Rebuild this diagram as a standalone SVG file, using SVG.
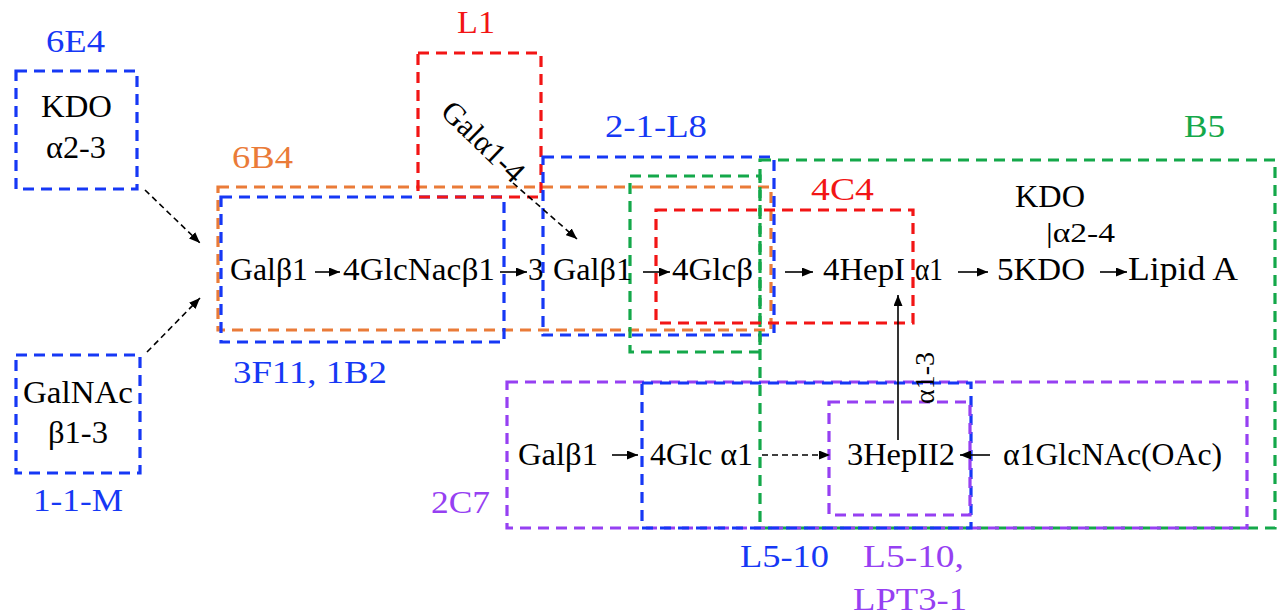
<svg xmlns="http://www.w3.org/2000/svg" width="1280" height="616" viewBox="0 0 1280 616">
<style>
.bx{fill:none;stroke-width:3.2;stroke-dasharray:11 7}
.b{stroke:#1638f5}.r{stroke:#f21515}.o{stroke:#ea7b38}.g{stroke:#14a84a}.p{stroke:#9640f2}
text{font-family:"Liberation Serif","DejaVu Serif",serif}
.t{font-size:31px;fill:#000}
.l{font-size:31px}
.lb{fill:#1638f5}.lr{fill:#f21515}.lo{fill:#ea7b38}.lg{fill:#14a84a}.lp{fill:#9640f2}
.c{stroke:#000;stroke-width:1.6;fill:none}
.d{stroke-dasharray:6 4}
</style>
<defs>
<marker id="ah" markerWidth="11" markerHeight="9" refX="11" refY="4.5" orient="auto" markerUnits="userSpaceOnUse"><path d="M0,0 L11,4.5 L0,9 z" fill="#000"/></marker>
</defs>
<rect width="1280" height="616" fill="#fff"/>

<g id="node-6E4">
<rect class="bx b" x="16" y="71" width="121" height="118"/>
<text class="l lb" x="46" y="52" textLength="59" lengthAdjust="spacingAndGlyphs">6E4</text>
<text class="t" x="41" y="117" textLength="71" lengthAdjust="spacingAndGlyphs">KDO</text>
<text class="t" x="46" y="158" textLength="60" lengthAdjust="spacingAndGlyphs">α2-3</text>
</g>
<g id="node-1-1-M">
<rect class="bx b" x="16" y="355" width="124" height="118"/>
<text class="t" x="23" y="403" textLength="110" lengthAdjust="spacingAndGlyphs">GalNAc</text>
<text class="t" x="48" y="443" textLength="60" lengthAdjust="spacingAndGlyphs">β1-3</text>
<text class="l lb" x="33" y="511" textLength="90" lengthAdjust="spacingAndGlyphs">1-1-M</text>
</g>
<g id="node-6B4">
<rect class="bx o" x="218" y="187" width="553" height="143"/>
<text class="l lo" x="232" y="168" textLength="61" lengthAdjust="spacingAndGlyphs">6B4</text>
</g>
<g id="node-3F11">
<rect class="bx b" x="221" y="197" width="283" height="145"/>
<text class="l lb" x="233" y="383" textLength="154" lengthAdjust="spacingAndGlyphs">3F11, 1B2</text>
</g>
<g id="node-L1">
<rect class="bx r" x="418" y="53" width="123" height="144"/>
<text class="l lr" x="457" y="33" textLength="38" lengthAdjust="spacingAndGlyphs">L1</text>
<text class="t" x="0" y="0" transform="translate(476,149) rotate(44)" text-anchor="middle">Galα1-4</text>
</g>
<g id="node-2-1-L8">
<rect class="bx b" x="543" y="157" width="231" height="178"/>
<text class="l lb" x="605" y="137" textLength="102" lengthAdjust="spacingAndGlyphs">2-1-L8</text>
</g>
<g id="node-B5">
<rect class="bx g" x="760" y="160" width="515" height="368"/>
<rect class="bx g" x="630" y="176" width="130" height="176"/>
<text class="l lg" x="1184" y="137" textLength="41" lengthAdjust="spacingAndGlyphs">B5</text>
</g>
<g id="node-4C4">
<rect class="bx r" x="656" y="210" width="257" height="113"/>
<text class="l lr" x="811" y="200" textLength="63" lengthAdjust="spacingAndGlyphs">4C4</text>
</g>
<g id="node-2C7">
<rect class="bx p" x="507" y="382" width="740" height="146"/>
<text class="l lp" x="431" y="513" textLength="59" lengthAdjust="spacingAndGlyphs">2C7</text>
</g>
<g id="node-L5-10">
<rect class="bx b" x="642" y="383" width="329" height="145"/>
<text class="l lb" x="740" y="567" textLength="89" lengthAdjust="spacingAndGlyphs">L5-10</text>
</g>
<g id="node-LPT3-1">
<rect class="bx p" x="829" y="402" width="141" height="113"/>
<text class="l lp" x="863" y="567" textLength="101" lengthAdjust="spacingAndGlyphs">L5-10,</text>
<text class="l lp" x="853" y="610" textLength="114" lengthAdjust="spacingAndGlyphs">LPT3-1</text>
</g>

<g id="chain-top">
<text class="t" x="230" y="280" textLength="78" lengthAdjust="spacingAndGlyphs">Galβ1</text>
<text class="t" x="343" y="280" textLength="152" lengthAdjust="spacingAndGlyphs">4GlcNacβ1</text>
<text class="t" x="528" y="280">3</text>
<text class="t" x="553" y="280" textLength="79" lengthAdjust="spacingAndGlyphs">Galβ1</text>
<text class="t" x="672" y="280" textLength="81" lengthAdjust="spacingAndGlyphs">4Glcβ</text>
<text class="t" x="823" y="280" textLength="82" lengthAdjust="spacingAndGlyphs">4HepI</text>
<text class="t" x="915" y="280" textLength="28" lengthAdjust="spacingAndGlyphs">α1</text>
<text class="t" x="997" y="280" textLength="88" lengthAdjust="spacingAndGlyphs">5KDO</text>
<text class="t" x="1128" y="280" style="font-size:34px" textLength="110" lengthAdjust="spacingAndGlyphs">Lipid A</text>
<text class="t" x="1015" y="207" textLength="70" lengthAdjust="spacingAndGlyphs">KDO</text>
<text class="t" x="1046" y="242" style="font-size:27px" textLength="69" lengthAdjust="spacingAndGlyphs">|α2-4</text>
</g>
<g id="chain-bottom">
<text class="t" x="518" y="465" textLength="80" lengthAdjust="spacingAndGlyphs">Galβ1</text>
<text class="t" x="650" y="465" textLength="103" lengthAdjust="spacingAndGlyphs">4Glc α1</text>
<text class="t" x="847" y="465" textLength="108" lengthAdjust="spacingAndGlyphs">3HepII2</text>
<text class="t" x="1003" y="465" textLength="219" lengthAdjust="spacingAndGlyphs">α1GlcNAc(OAc)</text>
<text class="t" x="0" y="0" transform="translate(934,378) rotate(-90)" text-anchor="middle" style="font-size:28px">α1-3</text>
</g>

<g id="connectors">
<line class="c d" x1="145" y1="190" x2="200" y2="243" marker-end="url(#ah)"/>
<line class="c d" x1="147" y1="352" x2="200" y2="298" marker-end="url(#ah)"/>
<line class="c d" x1="513" y1="183" x2="577" y2="239" marker-end="url(#ah)"/>
<line class="c" x1="315" y1="272" x2="340" y2="272" marker-end="url(#ah)"/>
<line class="c" x1="500" y1="272" x2="527" y2="272" marker-end="url(#ah)"/>
<line class="c" x1="643" y1="272" x2="670" y2="272" marker-end="url(#ah)"/>
<line class="c" x1="785" y1="272" x2="813" y2="272" marker-end="url(#ah)"/>
<line class="c" x1="958" y1="272" x2="988" y2="272" marker-end="url(#ah)"/>
<line class="c" x1="1100" y1="272" x2="1127" y2="272" marker-end="url(#ah)"/>
<line class="c" x1="898" y1="440" x2="898" y2="295" marker-end="url(#ah)"/>
<line class="c" x1="612" y1="455" x2="638" y2="455" marker-end="url(#ah)"/>
<line class="c d" x1="762" y1="455" x2="830" y2="455" marker-end="url(#ah)"/>
<line class="c" x1="990" y1="455" x2="960" y2="455" marker-end="url(#ah)"/>
</g>
</svg>
